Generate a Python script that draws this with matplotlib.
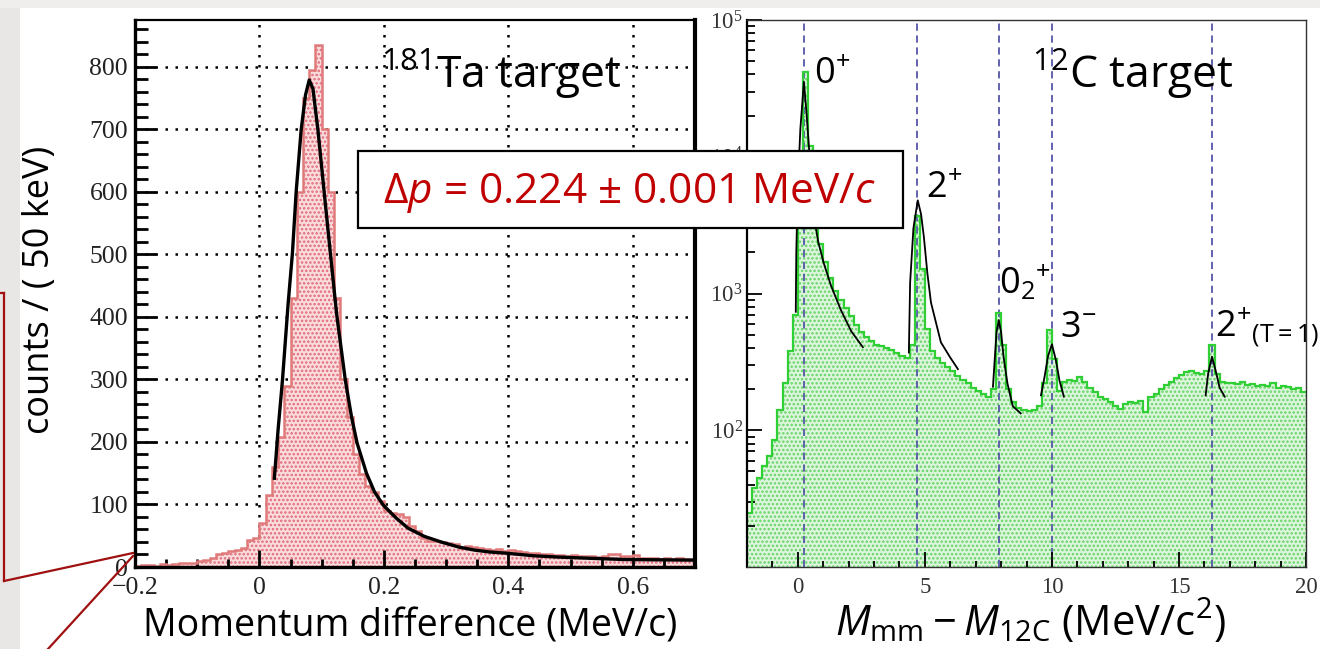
import numpy as np
import matplotlib
matplotlib.use("Agg")
import matplotlib.pyplot as plt
from matplotlib.patches import Rectangle
from matplotlib.lines import Line2D
from matplotlib.ticker import MultipleLocator, FixedLocator, FuncFormatter, NullFormatter

# ---- data: 181Ta target, momentum difference histogram ----
ta_edges = np.round(np.arange(-0.2, 0.7001, 0.01), 3)
ta_counts = [2, 3, 3, 2, 4, 3, 5, 6, 7, 6,
             9, 11, 14, 20, 23, 25, 27, 30, 43, 47,
             70, 115, 160, 208, 290, 430, 600, 750, 795, 835,
             700, 600, 430, 300, 240, 180, 148, 130, 120, 105,
             90, 86, 84, 80, 66, 58, 47, 42, 42, 40,
             38, 36, 31, 34, 32, 31, 28, 27, 29, 26,
             27, 25, 24, 23, 22, 21, 20, 19, 19, 18,
             19, 17, 18, 17, 16, 17, 21, 20, 18, 17,
             19, 15, 14, 15, 13, 14, 12, 14, 13, 12]
ta_fit_x = [0.024, 0.030, 0.037, 0.046, 0.053, 0.059, 0.067, 0.074, 0.080, 0.086,
            0.094, 0.104, 0.114, 0.124, 0.138, 0.148, 0.157, 0.172, 0.185, 0.199,
            0.22, 0.239, 0.265, 0.292, 0.32, 0.346, 0.37, 0.398, 0.44, 0.478,
            0.53, 0.585, 0.64, 0.70]
ta_fit_y = [142, 220, 299, 420, 502, 600, 699, 755, 779, 765,
            699, 600, 502, 405, 299, 240, 198, 150, 120, 99,
            78, 62, 49, 40, 32, 27, 24, 22, 18, 16,
            14, 12, 11.5, 11]

# ---- data: 12C target, missing mass histogram ----
c_edges = np.round(np.arange(-2.0, 20.0001, 0.2), 2)
c_counts = [25, 38, 45, 55, 65, 85, 140, 220, 380, 700,
            6000, 42000, 12000, 3500, 2300, 1700, 1300, 1050, 900, 780,
            680, 590, 520, 480, 450, 420, 410, 400, 385, 370,
            350, 340, 420, 3700, 1500, 550, 380, 340, 310, 290,
            270, 250, 235, 220, 205, 195, 185, 175, 200, 720,
            420, 200, 160, 145, 140, 138, 140, 150, 220, 540,
            330, 195, 225, 235, 230, 245, 225, 205, 190, 175,
            168, 160, 150, 142, 155, 162, 158, 165, 136, 175,
            185, 200, 215, 226, 240, 255, 267, 270, 262, 258,
            270, 420, 260, 226, 222, 220, 218, 225, 215, 218,
            212, 215, 210, 220, 205, 210, 208, 200, 205, 192]
fit_0p_x = [-0.08, -0.06, 0.0, 0.1, 0.24, 0.35, 0.45, 0.63, 0.8, 1.02, 1.3, 1.69, 2.1, 2.56]
fit_0p_y = [735, 2000, 6000, 16000, 35400, 20000, 11000, 3700, 2400, 1670, 1150, 760, 530, 405]
fit_2p_x = [4.37, 4.42, 4.55, 4.72, 4.85, 4.96, 5.1, 5.24, 5.63, 6.0, 6.3]
fit_2p_y = [370, 1200, 3000, 4800, 3800, 2600, 1400, 860, 440, 340, 280]
fit_02_x = [7.68, 7.75, 7.82, 7.91, 8.0, 8.1, 8.25, 8.46, 8.77]
fit_02_y = [208, 330, 520, 640, 520, 340, 220, 150, 133]
fit_3m_x = [9.57, 9.7, 9.85, 10.0, 10.15, 10.3, 10.47]
fit_3m_y = [180, 240, 350, 425, 330, 230, 176]
fit_2t_x = [16.05, 16.15, 16.3, 16.45, 16.6, 16.8]
fit_2t_y = [180, 260, 345, 270, 205, 176]
c_levels = [0.24, 4.69, 7.91, 10.0, 16.3]

W, H = 1320, 649
plt.rcParams['mathtext.fontset'] = 'custom'
plt.rcParams['mathtext.rm'] = 'Open Sans'
plt.rcParams['mathtext.it'] = 'Open Sans:italic'
plt.rcParams['mathtext.sf'] = 'Open Sans'
plt.rcParams['mathtext.bf'] = 'Open Sans:bold'
plt.rcParams['hatch.linewidth'] = 1.2

fig = plt.figure(figsize=(W / 100, H / 100), dpi=100)
fig.patch.set_facecolor('white')


def fx(px):
    return px / W


def fy(py):
    return 1 - py / H


# slide background bits
fig.add_artist(Rectangle((0, 0), fx(20), 1, transform=fig.transFigure,
                         facecolor='#e9e7e6', edgecolor='none', zorder=-5))
fig.add_artist(Rectangle((0, fy(8)), 1, 8 / H, transform=fig.transFigure,
                         facecolor='#efeeed', edgecolor='none', zorder=-5))

serif = 'Liberation Serif'
sans = 'Open Sans'

# ---------------- left panel ----------------
ax1 = fig.add_axes([fx(135), fy(567), (695 - 135) / W, (567 - 20) / H])
ax1.stairs(ta_counts, ta_edges, fill=True, facecolor='#fadcdc', edgecolor='none', zorder=1)
ax1.stairs(ta_counts, ta_edges, fill=True, facecolor='none', edgecolor='#e06a7a',
           hatch='....', linewidth=0, zorder=1.2)
ax1.stairs(ta_counts, ta_edges, color='#e07a7a', linewidth=1.8, zorder=2)
ax1.plot(ta_fit_x, ta_fit_y, color='black', linewidth=2.4, zorder=3)
ax1.set_xlim(-0.2, 0.7)
ax1.set_ylim(0, 875)
ax1.xaxis.set_major_locator(FixedLocator([-0.2, 0, 0.2, 0.4, 0.6]))
ax1.xaxis.set_minor_locator(MultipleLocator(0.05))
ax1.yaxis.set_major_locator(MultipleLocator(100))
ax1.yaxis.set_minor_locator(MultipleLocator(20))
ax1.xaxis.set_major_formatter(FuncFormatter(lambda v, p: '0' if abs(v) < 1e-9 else ('\u22120.2' if v < 0 else '%.1f' % v)))
for gx in [0, 0.2, 0.4, 0.6]:
    ax1.axvline(gx, color='black', linestyle=(0, (1, 3)), linewidth=1.8, zorder=0.5)
for gy in range(100, 900, 100):
    ax1.axhline(gy, color='black', linestyle=(0, (1, 3)), linewidth=1.8, zorder=0.5)
ax1.tick_params(axis='y', which='major', direction='in', length=15, width=2, pad=5,
                labelsize=18.5, colors='black')
ax1.tick_params(axis='y', which='minor', direction='in', length=9, width=2)
ax1.tick_params(axis='x', which='major', direction='in', length=12, width=2, pad=7,
                labelsize=18.5)
ax1.tick_params(axis='x', which='minor', direction='in', length=6, width=2)
for lab in ax1.get_xticklabels() + ax1.get_yticklabels():
    lab.set_family(serif)
    lab.set_color('#222222')
ax1.spines['left'].set_linewidth(2.4)
ax1.spines['bottom'].set_linewidth(2.4)
ax1.spines['right'].set_linewidth(3.0)
ax1.spines['top'].set_linewidth(1.6)

# ---------------- right panel ----------------
ax2 = fig.add_axes([fx(747), fy(567), (1306 - 747) / W, (567 - 20) / H])
ax2.set_yscale('log')
ax2.stairs(c_counts, c_edges, baseline=1, fill=True, facecolor='#dcf5dc', edgecolor='none', zorder=1)
ax2.stairs(c_counts, c_edges, baseline=1, fill=True, facecolor='none', edgecolor='#66d466',
           hatch='....', linewidth=0, zorder=1.2)
for lv in c_levels:
    ax2.axvline(lv, color='#5656a8', linestyle=(0, (4, 2.6)), linewidth=1.3, zorder=1.5)
ax2.stairs(c_counts, c_edges, baseline=None, color='#2fcf35', linewidth=1.6, zorder=2)
for xs, ys in [(fit_0p_x, fit_0p_y), (fit_2p_x, fit_2p_y), (fit_02_x, fit_02_y),
               (fit_3m_x, fit_3m_y), (fit_2t_x, fit_2t_y)]:
    ax2.plot(xs, ys, color='black', linewidth=1.3, zorder=3)
ax2.set_xlim(-2, 20)
ax2.set_ylim(10, 1e5)
ax2.xaxis.set_major_locator(MultipleLocator(5))
ax2.xaxis.set_minor_locator(MultipleLocator(1))
ax2.yaxis.set_major_locator(FixedLocator([1e2, 1e3, 1e4, 1e5]))
ax2.yaxis.set_minor_locator(FixedLocator([m * 10 ** e for e in range(1, 5) for m in range(2, 10)]))
ax2.yaxis.set_major_formatter(FuncFormatter(lambda v, p: r'$\mathdefault{10^{%d}}$' % round(np.log10(v))))
ax2.yaxis.set_minor_formatter(NullFormatter())
ax2.tick_params(axis='y', which='major', direction='in', length=11, width=1.3, pad=3, labelsize=16.5)
ax2.tick_params(axis='y', which='minor', direction='in', length=5.5, width=1.3)
ax2.tick_params(axis='x', which='major', direction='in', length=11, width=1.3, pad=7, labelsize=16.5)
ax2.tick_params(axis='x', which='minor', direction='in', length=4.5, width=1.3)
for lab in ax2.get_xticklabels() + ax2.get_yticklabels():
    lab.set_family(serif)
    lab.set_color('#333333')
for sp in ['top', 'right', 'bottom']:
    ax2.spines[sp].set_linewidth(1.0)
    ax2.spines[sp].set_color('#333333')
ax2.spines['left'].set_linewidth(1.6)

# peak labels
peak_style = dict(family=sans, fontsize=26, color='black', ha='left', va='baseline',
                  transform=fig.transFigure, zorder=10)
fig.text(fx(814), fy(84), r'$\mathdefault{0^{+}}$', **peak_style)
fig.text(fx(926), fy(198), r'$\mathdefault{2^{+}}$', **peak_style)
fig.text(fx(999), fy(294), r'$\mathdefault{0_{2}{}^{+}}$', **peak_style)
fig.text(fx(1060), fy(337), r'$\mathdefault{3^{-}}$', **peak_style)
fig.text(fx(1215), fy(337), r'$\mathdefault{2^{+}{}_{(T{=}1)}}$', **peak_style)

# target labels
fig.text(fx(501), fy(88), r'$^{181}$Ta target', family=sans, fontsize=32,
         ha='center', va='baseline')
fig.text(fx(1133), fy(88), r'$^{12}$C target', family=sans, fontsize=32,
         ha='center', va='baseline')

# axis labels
fig.text(fx(410), fy(636), 'Momentum difference (MeV/c)', family=sans, fontsize=27,
         ha='center', va='baseline')
fig.text(fx(1030), fy(636), r'$M_{\mathdefault{mm}} - M_{\mathdefault{12C}}$ (MeV/c$^{2}$)',
         family=sans, fontsize=30, ha='center', va='baseline')
fig.text(fx(40), fy(290), 'counts / ( 50 keV)', family=sans, fontsize=26,
         rotation=90, ha='center', va='center')

# result box
fig.add_artist(Rectangle((fx(358), fy(228)), (903 - 358) / W, (228 - 151) / H,
                         transform=fig.transFigure, facecolor='white',
                         edgecolor='black', linewidth=1.6, zorder=8))
fig.text(fx(629), fy(203), r'$\mathit{Δp}$ = 0.224 ± 0.001 MeV/$\mathit{c}$',
         family=sans, fontsize=30.5, color='#c00000', ha='center', va='baseline', zorder=9)

# callout lines from the slide
red = '#a01010'
for (x0, y0), (x1, y1) in [((0, 293), (4, 293)), ((4, 293), (4, 581)),
                           ((4, 581), (133, 553)), ((48, 649), (133, 556))]:
    fig.add_artist(Line2D([fx(x0), fx(x1)], [fy(y0), fy(y1)], transform=fig.transFigure,
                          color=red, linewidth=1.6, zorder=7))

fig.savefig('out.png', dpi=100)
